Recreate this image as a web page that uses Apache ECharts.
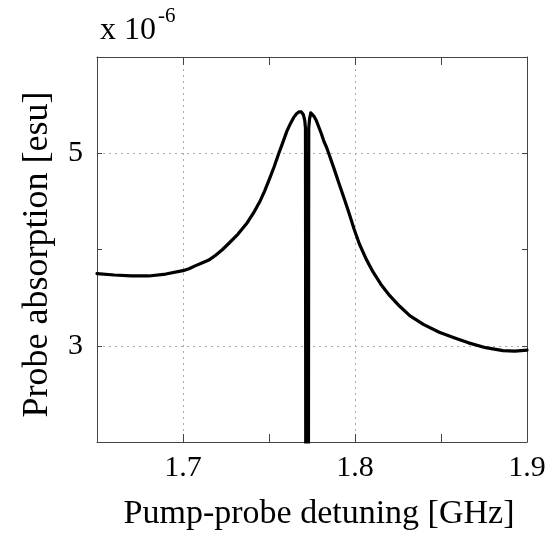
<!DOCTYPE html>
<html>
<head>
<meta charset="utf-8">
<script src="https://cdnjs.cloudflare.com/ajax/libs/echarts/6.0.0/echarts.min.js"></script>
<style>
  html, body { margin: 0; padding: 0; background: #fff; }
  #chart { width: 554px; height: 536px; }
</style>
</head>
<body>
<div id="chart"></div>
<script>
// detuning in GHz, absorption in units of 1e-6 esu
var detuning = [
  1.650, 1.660, 1.670, 1.680, 1.690, 1.700, 1.7035, 1.707, 1.711, 1.715,
  1.719, 1.723, 1.727, 1.732, 1.737, 1.741, 1.745, 1.7475, 1.750, 1.753,
  1.7555, 1.758, 1.7604, 1.7625, 1.7643, 1.7660, 1.7675, 1.7688, 1.7700, 1.7708,
  1.7712, 1.7714, 1.7729, 1.7731, 1.7736, 1.7743, 1.7752, 1.7763, 1.7775, 1.7790,
  1.7805, 1.7820, 1.7835, 1.7849, 1.7880, 1.7908, 1.7937, 1.7967, 1.7995, 1.8025,
  1.8065, 1.8104, 1.8150, 1.8202, 1.8260, 1.832, 1.840, 1.849, 1.858, 1.866,
  1.876, 1.886, 1.893, 1.900
];
var absorption = [
  3.75, 3.735, 3.725, 3.725, 3.745, 3.78, 3.80, 3.83, 3.86, 3.89,
  3.94, 4.00, 4.07, 4.16, 4.27, 4.38, 4.51, 4.61, 4.72, 4.86,
  4.99, 5.11, 5.23, 5.31, 5.37, 5.41, 5.43, 5.43, 5.40, 5.34,
  5.26, 1.0, 1.0, 5.26, 5.36, 5.42, 5.41, 5.38, 5.34, 5.27,
  5.20, 5.12, 5.06, 4.99, 4.83, 4.68, 4.53, 4.37, 4.21, 4.06,
  3.90, 3.77, 3.64, 3.52, 3.41, 3.31, 3.22, 3.14, 3.08, 3.03,
  2.98, 2.95, 2.945, 2.955
];
var xLabels = [1.7, 1.8, 1.9];
var yLabels = [3, 5];

var serif = "'Liberation Serif', 'Times New Roman', serif";
var points = detuning.map(function (d, i) { return [d, absorption[i]]; });

function near(v, list) {
  for (var i = 0; i < list.length; i++) {
    if (Math.abs(v - list[i]) < 1e-6) return true;
  }
  return false;
}

var chart = echarts.init(document.getElementById('chart'));
var option = {
  animation: false,
  backgroundColor: '#fff',
  grid: { left: 97, right: 27, top: 57, bottom: 93 },
  graphic: [
    { type: 'text', left: 100, top: 15,
      style: { text: 'x 10', font: '32px ' + serif, fill: '#000' } },
    { type: 'text', left: 158, top: 6,
      style: { text: '-6', font: '21px ' + serif, fill: '#000' } }
  ],
  xAxis: [{
    type: 'value', position: 'bottom',
    min: 1.65, max: 1.9, interval: 0.05,
    axisLine: { show: true, onZero: false, lineStyle: { color: '#444', width: 1 } },
    axisTick: { show: true, inside: true, length: 8, lineStyle: { color: '#444' } },
    axisLabel: {
      margin: 11, fontSize: 30, fontFamily: serif, color: '#000',
      showMinLabel: true, showMaxLabel: true,
      formatter: function (v) { return near(v, xLabels) ? v.toFixed(1) : ''; }
    },
    splitLine: { show: true, lineStyle: { color: ['rgba(0,0,0,0)', '#aaa'], type: [2, 4], width: 1 } },
    name: 'Pump-probe detuning [GHz]',
    nameLocation: 'middle', nameGap: 55,
    nameTextStyle: { fontSize: 34, fontFamily: serif, color: '#000', padding: [0, 0, 0, 14] }
  }, {
    type: 'value', position: 'top',
    min: 1.65, max: 1.9, interval: 0.05,
    axisLine: { show: true, onZero: false, lineStyle: { color: '#444', width: 1 } },
    axisTick: { show: true, inside: true, length: 8, lineStyle: { color: '#444' } },
    axisLabel: { show: false },
    splitLine: { show: false }
  }],
  yAxis: [{
    type: 'value', position: 'left',
    min: 2, max: 6, interval: 1,
    axisLine: { show: true, onZero: false, lineStyle: { color: '#444', width: 1 } },
    axisTick: { show: true, inside: true, length: 5, lineStyle: { color: '#444' } },
    axisLabel: {
      margin: 14, fontSize: 30, fontFamily: serif, color: '#000',
      formatter: function (v) { return near(v, yLabels) ? String(v) : ''; }
    },
    splitLine: { show: true, lineStyle: { color: ['rgba(0,0,0,0)', '#aaa'], type: [2, 4], width: 1 } },
    name: 'Probe absorption [esu]',
    nameLocation: 'middle', nameGap: 41, nameRotate: 90,
    nameTextStyle: { fontSize: 36, fontFamily: serif, color: '#000', padding: [0, 10, 0, 0] }
  }, {
    type: 'value', position: 'right',
    min: 2, max: 6, interval: 1,
    axisLine: { show: true, onZero: false, lineStyle: { color: '#444', width: 1 } },
    axisTick: { show: true, inside: true, length: 5, lineStyle: { color: '#444' } },
    axisLabel: { show: false },
    splitLine: { show: false }
  }],
  series: [{
    type: 'line',
    data: points,
    showSymbol: false,
    clip: true,
    smooth: false,
    lineStyle: { color: '#000', width: 3.2, join: 'round', cap: 'round' }
  }]
};
chart.setOption(option);
</script>
</body>
</html>
